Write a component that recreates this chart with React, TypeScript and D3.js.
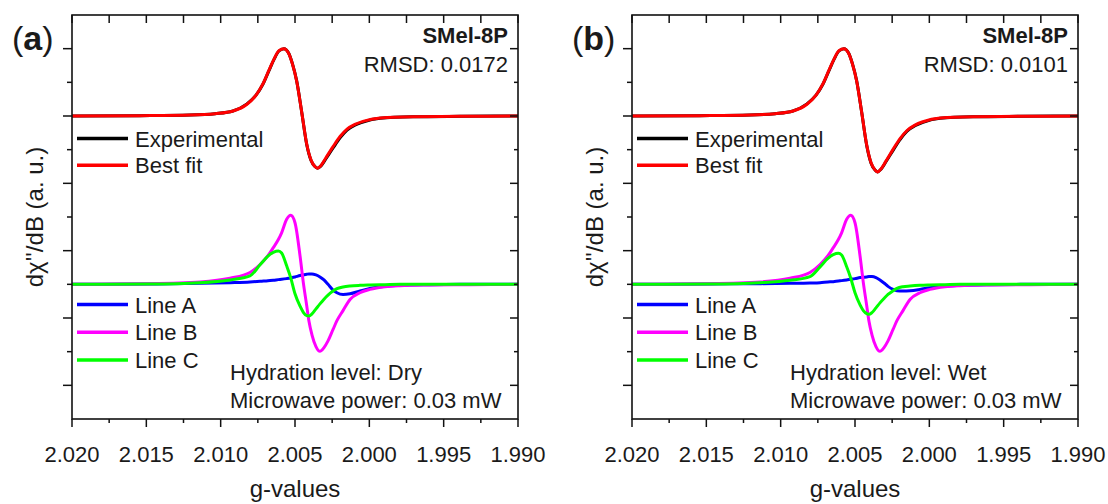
import { useEffect, useRef } from 'react';
import * as d3 from 'd3';

// g-value grid for the experimental / best fit spectra
const G_TOP = [2.02, 2.01543, 2.01206, 2.01038, 2.00917, 2.00823, 2.00762, 2.00715, 2.00675, 2.00641, 2.00608, 2.00574, 2.00544, 2.00517, 2.00489, 2.00455, 2.00421, 2.00392, 2.00366, 2.00349, 2.00325, 2.00292, 2.00244, 2.00197, 2.0015, 2.00097, 2.00043, 1.99928, 1.99706, 1.9939, 1.99];

const EXP_DRY = [0, 0.01, 0.03, 0.07, 0.15, 0.36, 0.62, 0.95, 1.35, 1.68, 1.93, 2.0, 1.88, 1.55, 1.05, 0.12, -0.85, -1.32, -1.5, -1.55, -1.48, -1.27, -0.95, -0.65, -0.42, -0.27, -0.18, -0.07, -0.025, -0.01, 0];
const FIT_DRY = [0, 0.01, 0.03, 0.07, 0.15, 0.35, 0.62, 0.96, 1.36, 1.69, 1.94, 2.0, 1.87, 1.54, 1.04, 0.12, -0.84, -1.31, -1.5, -1.55, -1.47, -1.24, -0.91, -0.61, -0.39, -0.25, -0.16, -0.06, -0.02, -0.01, 0];
const EXP_WET = [0, 0.01, 0.03, 0.07, 0.15, 0.36, 0.62, 0.95, 1.35, 1.68, 1.93, 2.0, 1.88, 1.55, 1.05, 0.11, -0.88, -1.4, -1.6, -1.66, -1.58, -1.36, -1.02, -0.7, -0.45, -0.29, -0.19, -0.07, -0.025, -0.01, 0];
const FIT_WET = [0, 0.01, 0.03, 0.07, 0.15, 0.35, 0.62, 0.96, 1.36, 1.69, 1.94, 2.0, 1.87, 1.54, 1.04, 0.11, -0.87, -1.39, -1.6, -1.66, -1.57, -1.34, -0.99, -0.67, -0.43, -0.27, -0.17, -0.06, -0.02, -0.01, 0];

// g-value grid for the simulated components
const G_COMP = [2.02, 2.01475, 2.01139, 2.00937, 2.00803, 2.00735, 2.00682, 2.00646, 2.00612, 2.0059, 2.00556, 2.00529, 2.005, 2.00466, 2.00444, 2.00421, 2.00406, 2.00386, 2.00359, 2.00332, 2.00305, 2.00278, 2.00244, 2.00218, 2.00177, 2.0013, 2.00063, 1.99996, 1.99895, 1.99794, 1.99592, 1.99323, 1.99];

const LINE_A_DRY = [0, 0.01, 0.03, 0.05, 0.07, 0.09, 0.11, 0.12, 0.14, 0.15, 0.17, 0.19, 0.22, 0.26, 0.28, 0.3, 0.31, 0.31, 0.28, 0.22, 0.13, 0.0, -0.17, -0.25, -0.3, -0.28, -0.2, -0.12, -0.06, -0.03, -0.01, 0, 0];
const LINE_B_DRY = [0, 0.02, 0.07, 0.18, 0.35, 0.59, 0.85, 1.09, 1.33, 1.53, 1.93, 2.05, 1.83, 0.84, 0.05, -0.64, -1.1, -1.5, -1.85, -1.99, -1.88, -1.68, -1.34, -1.08, -0.78, -0.45, -0.25, -0.15, -0.07, -0.04, -0.02, -0.01, 0];
const LINE_C_DRY = [0, 0.01, 0.05, 0.13, 0.25, 0.58, 0.84, 0.95, 0.99, 0.93, 0.55, 0.2, -0.28, -0.65, -0.83, -0.93, -0.94, -0.88, -0.73, -0.58, -0.44, -0.32, -0.2, -0.13, -0.08, -0.05, -0.03, -0.02, -0.01, 0, 0, 0, 0];

const LINE_A_WET = [0, 0.01, 0.02, 0.03, 0.04, 0.05, 0.07, 0.08, 0.1, 0.11, 0.13, 0.15, 0.17, 0.2, 0.21, 0.22, 0.23, 0.23, 0.2, 0.13, 0.04, -0.06, -0.15, -0.19, -0.2, -0.19, -0.15, -0.1, -0.05, -0.03, -0.01, 0, 0];
const LINE_B_WET = [0, 0.02, 0.07, 0.18, 0.35, 0.59, 0.85, 1.09, 1.33, 1.53, 1.93, 2.05, 1.83, 0.84, 0.05, -0.64, -1.1, -1.5, -1.85, -1.99, -1.88, -1.68, -1.34, -1.08, -0.78, -0.45, -0.25, -0.15, -0.07, -0.04, -0.02, -0.01, 0];
const LINE_C_WET = [0, 0.01, 0.05, 0.12, 0.23, 0.52, 0.77, 0.88, 0.92, 0.87, 0.52, 0.19, -0.25, -0.61, -0.78, -0.87, -0.89, -0.84, -0.7, -0.55, -0.42, -0.3, -0.19, -0.12, -0.07, -0.05, -0.03, -0.02, -0.01, 0, 0, 0, 0];

const X_TICKS = [2.02, 2.015, 2.01, 2.005, 2.0, 1.995, 1.99];
const X_MINOR = [2.0175, 2.0125, 2.0075, 2.0025, 1.9975, 1.9925];
const Y_TICKS = [1, 2, 3, 4, 5, 6, 7, 8, 9, 10, 11];

const TOP_OFFSET = 9;
const COMP_OFFSET = 4;

const TOP_LEGEND = ['Experimental', 'Best fit'];
const COMP_LEGEND = ['Line A', 'Line B', 'Line C'];

const PANELS = [
  { tag: 'a', rmsd: 'RMSD: 0.0172', hydration: 'Hydration level: Dry', exp: EXP_DRY, fit: FIT_DRY, a: LINE_A_DRY, b: LINE_B_DRY, c: LINE_C_DRY },
  { tag: 'b', rmsd: 'RMSD: 0.0101', hydration: 'Hydration level: Wet', exp: EXP_WET, fit: FIT_WET, a: LINE_A_WET, b: LINE_B_WET, c: LINE_C_WET },
];

const FONT = "'Liberation Sans', Arial, sans-serif";
const TXT = '#1a1a1a';

export default function App() {
  const svgRef = useRef<SVGSVGElement>(null);

  useEffect(() => {
    const width = 1108;
    const height = 504;
    const panelW = 446;
    const top = 15;
    const bottom = 419;
    const lefts = [72, 632];

    const svg = d3.select(svgRef.current);
    svg.selectAll('*').remove();
    svg.attr('width', width).attr('height', height);

    const y = d3.scaleLinear().domain([0, 12]).range([bottom, top]);

    PANELS.forEach((p, i) => {
      const pl = lefts[i];
      const x = d3.scaleLinear().domain([2.02, 1.99]).range([pl, pl + panelW]);
      const g = svg.append('g');

      const line = (gs: number[], off: number) =>
        d3.line<number>()
          .x((_, k) => x(gs[k]))
          .y(d => y(d + off))
          .curve(d3.curveMonotoneX);

      // spectra
      const series = [
        { gs: G_TOP, v: p.exp, off: TOP_OFFSET, color: '#000000' },
        { gs: G_TOP, v: p.fit, off: TOP_OFFSET, color: '#ff0000' },
        { gs: G_COMP, v: p.a, off: COMP_OFFSET, color: '#0000ff' },
        { gs: G_COMP, v: p.b, off: COMP_OFFSET, color: '#ff00ff' },
        { gs: G_COMP, v: p.c, off: COMP_OFFSET, color: '#00ff00' },
      ];
      series.forEach(s => {
        g.append('path')
          .datum(s.v)
          .attr('fill', 'none')
          .attr('stroke', s.color)
          .attr('stroke-width', 3)
          .attr('stroke-linejoin', 'round')
          .attr('d', line(s.gs, s.off));
      });

      // frame
      g.append('rect')
        .attr('x', pl).attr('y', top)
        .attr('width', panelW).attr('height', bottom - top)
        .attr('fill', 'none').attr('stroke', '#111').attr('stroke-width', 1.6);

      const tick = (x1: number, y1: number, x2: number, y2: number) =>
        g.append('line').attr('x1', x1).attr('y1', y1).attr('x2', x2).attr('y2', y2)
          .attr('stroke', '#111').attr('stroke-width', 1.5);

      // x ticks
      X_TICKS.forEach(t => {
        tick(x(t), bottom, x(t), bottom + 8);
        tick(x(t), top, x(t), top + 8);
        g.append('text')
          .attr('x', x(t)).attr('y', 462)
          .attr('text-anchor', 'middle')
          .attr('font-family', FONT).attr('font-size', 22).attr('fill', TXT)
          .text(d3.format('.3f')(t));
      });
      X_MINOR.forEach(t => {
        tick(x(t), bottom, x(t), bottom + 4);
        tick(x(t), top, x(t), top + 8);
      });

      // y ticks
      Y_TICKS.forEach(t => {
        const len = t % 2 === 1 ? 9 : 5;
        tick(pl - len, y(t), pl, y(t));
        tick(pl + panelW - len + 1, y(t), pl + panelW, y(t));
      });

      // axis titles
      g.append('text')
        .attr('x', pl + panelW / 2).attr('y', 497)
        .attr('text-anchor', 'middle')
        .attr('font-family', FONT).attr('font-size', 24).attr('fill', TXT)
        .text('g-values');

      g.append('text')
        .attr('transform', `translate(${pl - 29},${(top + bottom) / 2}) rotate(-90)`)
        .attr('text-anchor', 'middle')
        .attr('font-family', FONT).attr('font-size', 24).attr('fill', TXT)
        .text("dχ''/dB (a. u.)");

      // panel tag
      const tag = g.append('text')
        .attr('x', pl - 60).attr('y', 50)
        .attr('font-family', FONT).attr('font-size', 34).attr('fill', TXT);
      tag.append('tspan').text('(');
      tag.append('tspan').attr('font-weight', 'bold').text(p.tag);
      tag.append('tspan').text(')');

      // sample + RMSD
      g.append('text')
        .attr('x', pl + panelW - 10).attr('y', 43)
        .attr('text-anchor', 'end')
        .attr('font-family', FONT).attr('font-size', 22).attr('font-weight', 'bold').attr('fill', TXT)
        .text('SMel-8P');
      g.append('text')
        .attr('x', pl + panelW - 10).attr('y', 72)
        .attr('text-anchor', 'end')
        .attr('font-family', FONT).attr('font-size', 22).attr('fill', TXT)
        .text(p.rmsd);

      // legends
      const legend = (labels: string[], colors: string[], y0: number, dy: number) => {
        labels.forEach((lab, k) => {
          const ly = y0 + k * dy;
          g.append('line')
            .attr('x1', pl + 5).attr('x2', pl + 56)
            .attr('y1', ly).attr('y2', ly)
            .attr('stroke', colors[k]).attr('stroke-width', 3.5);
          g.append('text')
            .attr('x', pl + 63).attr('y', ly + 8)
            .attr('font-family', FONT).attr('font-size', 22).attr('fill', TXT)
            .text(lab);
        });
      };
      legend(TOP_LEGEND, ['#000000', '#ff0000'], 138.5, 26.8);
      legend(COMP_LEGEND, ['#0000ff', '#ff00ff', '#00ff00'], 304.5, 27.8);

      // conditions
      g.append('text')
        .attr('x', pl + 158).attr('y', 379.5)
        .attr('font-family', FONT).attr('font-size', 22).attr('fill', TXT)
        .text(p.hydration);
      g.append('text')
        .attr('x', pl + 158).attr('y', 407.5)
        .attr('font-family', FONT).attr('font-size', 22).attr('fill', TXT)
        .text('Microwave power: 0.03 mW');
    });
  }, []);

  return (
    <svg ref={svgRef} style={{ position: 'absolute', left: 0, top: 0, background: '#fff' }}></svg>
  );
}
